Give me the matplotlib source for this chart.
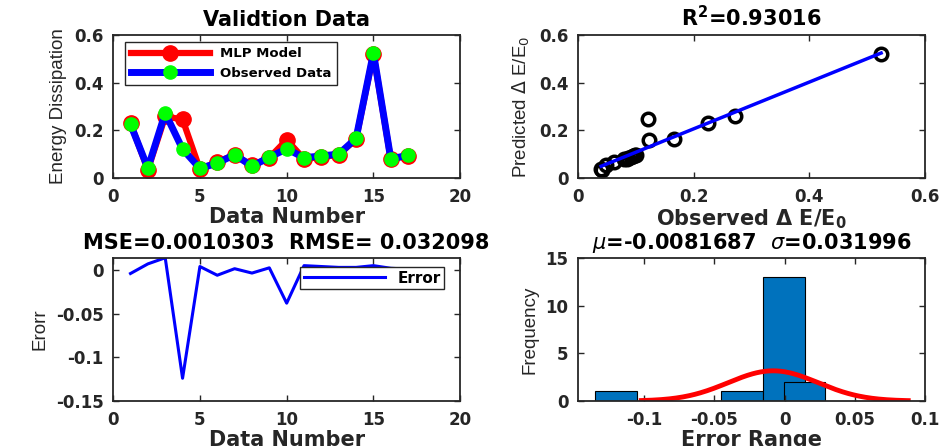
import numpy as np
import matplotlib
matplotlib.use("Agg")
import matplotlib.pyplot as plt

# data
data_number = np.arange(1, 18)
observed = np.array([0.225, 0.041, 0.272, 0.121, 0.040, 0.062, 0.098, 0.049, 0.087,
                     0.122, 0.085, 0.092, 0.100, 0.166, 0.524, 0.080, 0.095])
predicted = np.array([0.229, 0.034, 0.258, 0.245, 0.036, 0.068, 0.0965, 0.0525, 0.0845,
                      0.160, 0.080, 0.088, 0.097, 0.163, 0.519, 0.078, 0.094])
error = observed - predicted

hist_left = [-0.135, -0.045, -0.0155, -0.0007]
hist_counts = [1, 1, 13, 2]
hist_width = 0.0298
mu, sigma = -0.0081687, 0.031996
fit_scale = 17 * 0.0149

TICK_FONT = dict(family="DejaVu Sans", weight="bold", size=12)
LABEL_FONT = dict(family="DejaVu Sans", weight="bold", size=15)
TITLE_FONT = dict(family="DejaVu Sans", weight="bold", size=15)
YLAB_FONT = dict(family="Liberation Sans", size=13.5)
TXT = "#262626"


def style(ax, xt, xl, yt, yl):
    ax.set_xticks(xt, xl)
    ax.set_yticks(yt, yl)
    ax.tick_params(direction="in", length=4, width=1, top=True, right=True,
                   colors=TXT, pad=7)
    for lab in ax.get_xticklabels() + ax.get_yticklabels():
        lab.set_fontproperties(matplotlib.font_manager.FontProperties(**TICK_FONT))
        lab.set_color(TXT)
    for s in ax.spines.values():
        s.set_linewidth(1.3)
        s.set_color(TXT)


fig = plt.figure(figsize=(9.43, 4.46), dpi=100)

# top left: validation data
ax1 = fig.add_axes([0.120, 0.601, 0.368, 0.321])
ax1.plot(data_number, predicted, color="red", lw=4.5, marker="o", ms=11,
         mfc="red", mec="red", label="MLP Model")
ax1.plot(data_number, observed, color="blue", lw=5, marker="o", ms=9.5,
         mfc="#00ff00", mec="#00ff00", label="Observed Data")
ax1.set_xlim(0, 20)
ax1.set_ylim(0, 0.6)
style(ax1, [0, 5, 10, 15, 20], ["0", "5", "10", "15", "20"],
      [0, 0.2, 0.4, 0.6], ["0", "0.2", "0.4", "0.6"])
ax1.set_title("Validtion Data", pad=6, color="black", **TITLE_FONT)
ax1.set_xlabel("Data Number", labelpad=1, color=TXT, **LABEL_FONT)
ax1.set_ylabel("Energy Dissipation", labelpad=5, color=TXT, **YLAB_FONT)
leg = ax1.legend(loc="upper left", bbox_to_anchor=(0.035, 0.95), handlelength=6,
                 prop=dict(family="DejaVu Sans", weight="bold", size=9.5),
                 fancybox=False, framealpha=1, edgecolor=TXT, borderpad=0.4,
                 labelspacing=0.5, borderaxespad=0)
leg.get_frame().set_linewidth(1)

# top right: regression
ax2 = fig.add_axes([0.613, 0.601, 0.368, 0.321])
ax2.plot(observed, predicted, ls="none", marker="o", ms=9, mfc="none",
         mec="black", mew=2.5)
coef = np.polyfit(observed, predicted, 1)
xs = np.array([observed.min(), observed.max()])
ax2.plot(xs, np.polyval(coef, xs), color="blue", lw=2.5)
ax2.set_xlim(0, 0.6)
ax2.set_ylim(0, 0.6)
style(ax2, [0, 0.2, 0.4, 0.6], ["0", "0.2", "0.4", "0.6"],
      [0, 0.2, 0.4, 0.6], ["0", "0.2", "0.4", "0.6"])
ax2.set_title(r"R$^\mathbf{2}$=0.93016", pad=6, color="black", **TITLE_FONT)
ax2.set_xlabel(r"Observed $\mathbf{\Delta}$ E/E$_\mathbf{0}$", labelpad=1,
               color=TXT, **LABEL_FONT)
ax2.set_ylabel(r"Predicted $\Delta$ E/E$_0$", labelpad=5, color=TXT, **YLAB_FONT)

# bottom left: error
ax3 = fig.add_axes([0.120, 0.101, 0.368, 0.321])
ax3.plot(data_number, error, color="blue", lw=2.2, label="Error")
ax3.set_xlim(0, 20)
ax3.set_ylim(-0.15, error.max())
style(ax3, [0, 5, 10, 15, 20], ["0", "5", "10", "15", "20"],
      [-0.15, -0.1, -0.05, 0], ["-0.15", "-0.1", "-0.05", "0"])
ax3.set_title("MSE=0.0010303  RMSE= 0.032098", pad=6, color="black", **TITLE_FONT)
ax3.set_xlabel("Data Number", labelpad=1, color=TXT, **LABEL_FONT)
ax3.set_ylabel("Erorr", labelpad=5, color=TXT, **YLAB_FONT)
leg3 = ax3.legend(loc="upper right", bbox_to_anchor=(0.954, 0.937), handlelength=5.3,
                  prop=dict(family="DejaVu Sans", weight="bold", size=11),
                  fancybox=False, framealpha=1, edgecolor=TXT, borderpad=0.25,
                  borderaxespad=0)
leg3.get_frame().set_linewidth(1)

# bottom right: histogram
ax4 = fig.add_axes([0.613, 0.101, 0.368, 0.321])
ax4.bar(hist_left, hist_counts, width=hist_width, align="edge", color="#0072BD",
        edgecolor="black", lw=0.8)
xf = np.linspace(-0.102, 0.088, 200)
yf = fit_scale * np.exp(-0.5 * ((xf - mu) / sigma) ** 2) / (sigma * np.sqrt(2 * np.pi))
ax4.plot(xf, yf, color="red", lw=3.5)
ax4.set_xlim(-0.147, 0.1)
ax4.set_ylim(0, 15)
style(ax4, [-0.1, -0.05, 0, 0.05, 0.1], ["-0.1", "-0.05", "0", "0.05", "0.1"],
      [0, 5, 10, 15], ["0", "5", "10", "15"])
ax4.set_title(r"$\mu$=-0.0081687  $\sigma$=0.031996", pad=6, color="black", **TITLE_FONT)
ax4.set_xlabel("Error Range", labelpad=1, color=TXT, **LABEL_FONT)
ax4.set_ylabel("Frequency", labelpad=5, color=TXT, **YLAB_FONT)

fig.savefig("out.png", dpi=100)
